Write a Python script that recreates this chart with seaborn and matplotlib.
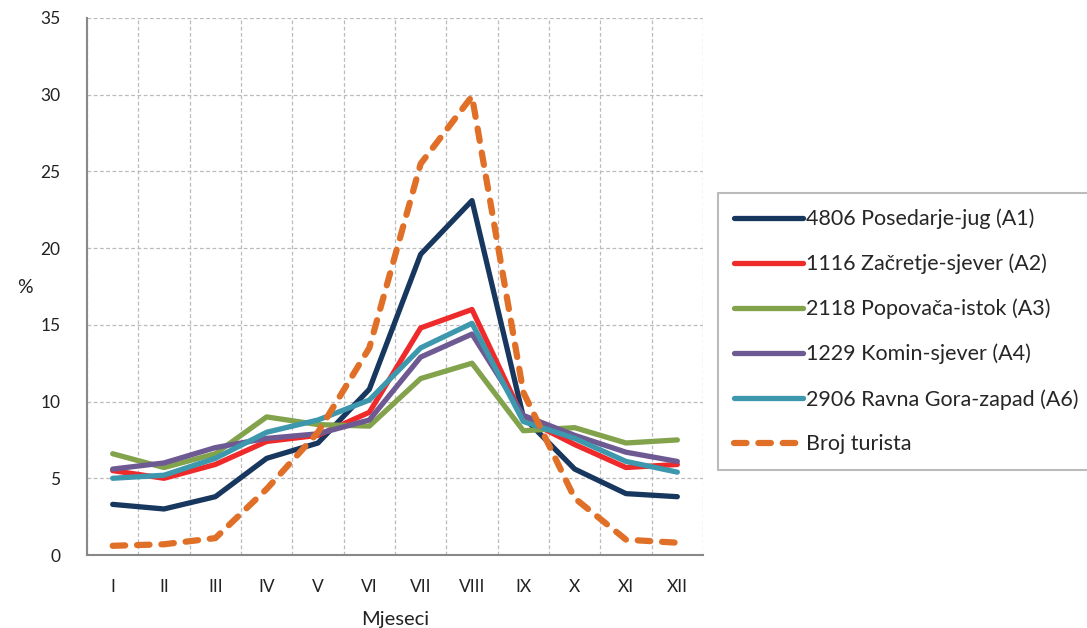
import matplotlib
matplotlib.use("Agg")
import matplotlib.pyplot as plt
import seaborn as sns
import pandas as pd

# Months (Roman numerals) and monthly shares in %
months = ["I", "II", "III", "IV", "V", "VI", "VII", "VIII", "IX", "X", "XI", "XII"]

a1 = [3.3, 3.0, 3.8, 6.3, 7.3, 10.8, 19.6, 23.1, 9.0, 5.6, 4.0, 3.8]
a2 = [5.5, 5.0, 5.9, 7.4, 7.8, 9.3, 14.8, 16.0, 8.9, 7.2, 5.7, 5.9]
a3 = [6.6, 5.7, 6.6, 9.0, 8.5, 8.4, 11.5, 12.5, 8.1, 8.3, 7.3, 7.5]
a4 = [5.6, 6.0, 7.0, 7.6, 7.9, 8.8, 12.9, 14.4, 9.1, 7.8, 6.7, 6.1]
a6 = [5.0, 5.2, 6.3, 8.0, 8.8, 10.1, 13.5, 15.1, 8.7, 7.6, 6.1, 5.4]
tourists = [0.6, 0.7, 1.1, 4.3, 8.0, 13.5, 25.5, 29.9, 10.6, 3.7, 1.0, 0.8]

series_names = ["4806 Posedarje-jug (A1)", "1116 Začretje-sjever (A2)",
                "2118 Popovača-istok (A3)", "1229 Komin-sjever (A4)",
                "2906 Ravna Gora-zapad (A6)", "Broj turista"]
series_values = [a1, a2, a3, a4, a6, tourists]
series_colors = ["#17375E", "#EE2A2A", "#82A24C", "#6E5A92", "#3D97AD", "#E07028"]

rows = []
for name, vals in zip(series_names, series_values):
    for i, v in enumerate(vals):
        rows.append({"pos": i, "month": months[i], "value": v, "series": name})
df = pd.DataFrame(rows)

sns.set_style("white")
plt.rcParams["font.family"] = ["Lato", "DejaVu Sans"]

fig = plt.figure(figsize=(10.87, 6.28), dpi=100)
ax = fig.add_axes([87 / 1087, (628 - 555) / 628, (703 - 87) / 1087, (555 - 18) / 628])

palette = dict(zip(series_names, series_colors))
dashes = {n: "" for n in series_names}
dashes["Broj turista"] = (2.0, 1.9)

sns.lineplot(data=df, x="pos", y="value", hue="series", style="series",
             palette=palette, dashes=dashes, linewidth=3.8, ax=ax, legend=False)
for line in ax.get_lines():
    line.set_dash_capstyle("round")
ax.get_lines()[-1].set_linewidth(4.5)

ax.set_xlim(-0.5, 11.5)
ax.set_ylim(0, 35)
ax.set_yticks(range(0, 36, 5))
ax.set_xticks(range(12))
ax.set_xticklabels(months)
ax.set_xticks([i - 0.5 for i in range(13)], minor=True)

ax.tick_params(axis="x", which="major", length=0, pad=17, labelsize=12.5, colors="#222222")
ax.tick_params(axis="x", which="minor", length=5, color="#888888", direction="out")
ax.tick_params(axis="y", length=5, color="#888888", direction="out", labelsize=12.5,
               labelcolor="#222222", pad=14)

ax.grid(True, which="minor", axis="x", color="#BBBBBB", linestyle=(0, (3, 2)), linewidth=0.9)
ax.grid(True, which="major", axis="y", color="#BBBBBB", linestyle=(0, (3, 2)), linewidth=0.9)
ax.set_axisbelow(True)

for side in ["top", "right"]:
    ax.spines[side].set_visible(False)
for side in ["left", "bottom"]:
    ax.spines[side].set_color("#888888")
    ax.spines[side].set_linewidth(1.5)

ax.set_xlabel("Mjeseci", fontsize=14.5, color="#222222", labelpad=12)
ax.set_ylabel("%", fontsize=14, rotation=0, color="#222222", va="center")
ax.yaxis.set_label_coords(-0.1, 0.499)

handles = ax.get_lines()
leg = fig.legend(handles, series_names, loc="upper left",
                 bbox_to_anchor=(718 / 1087, 1 - 193 / 628), bbox_transform=fig.transFigure,
                 fontsize=15.5, frameon=True, fancybox=False, edgecolor="#AAAAAA",
                 handlelength=3.25, handletextpad=0.12, labelspacing=1.14,
                 borderpad=0.72, borderaxespad=0)
leg.get_frame().set_linewidth(1.5)

fig.savefig("out.png", dpi=100)
